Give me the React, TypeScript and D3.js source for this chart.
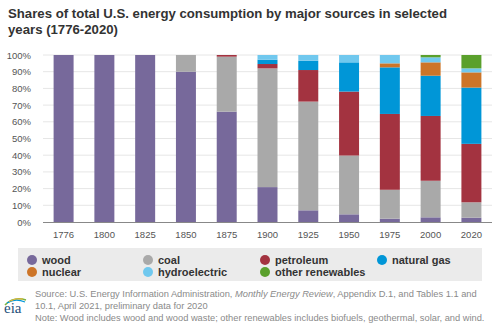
import React from "react";
import * as d3 from "d3";

const years = ["1776", "1800", "1825", "1850", "1875", "1900", "1925", "1950", "1975", "2000", "2020"];
const seriesNames = ["wood", "coal", "petroleum", "natural gas", "nuclear", "hydroelectric", "other renewables"];
const seriesColors = ["#77699b", "#a9a9a9", "#a33340", "#0096d7", "#cd7528", "#70c8ee", "#5aa02c"];

const wood = [100, 100, 100, 90.0, 66.1, 20.9, 7.0, 4.6, 2.0, 2.8, 2.6];
const coal = [0, 0, 0, 10.0, 32.9, 71.1, 65.1, 35.2, 17.3, 21.9, 9.2];
const petroleum = [0, 0, 0, 0, 1.0, 2.6, 18.9, 38.3, 45.4, 38.8, 35.0];
const naturalGas = [0, 0, 0, 0, 0, 2.6, 5.6, 17.5, 27.9, 24.1, 33.7];
const nuclear = [0, 0, 0, 0, 0, 0, 0, 0, 2.4, 8.0, 9.1];
const hydroelectric = [0, 0, 0, 0, 0, 2.8, 3.4, 4.4, 5.0, 3.0, 2.4];
const otherRenewables = [0, 0, 0, 0, 0, 0, 0, 0, 0, 1.4, 8.0];

const yTicks = [0, 10, 20, 30, 40, 50, 60, 70, 80, 90, 100];

const FONT = "Liberation Sans, Arial, sans-serif";

export default function App() {
  const W = 500, H = 325;
  const m = { left: 43, right: 8, top: 55, bottom: 103 };
  const x = d3.scaleBand<string>().domain(years).range([m.left, W - m.right]).paddingInner(0.51).paddingOuter(0.26);
  const y = d3.scaleLinear().domain([0, 100]).range([222, 55]);

  const rows = years.map((yr, i) => {
    const r: any = { year: yr };
    r["wood"] = wood[i];
    r["coal"] = coal[i];
    r["petroleum"] = petroleum[i];
    r["natural gas"] = naturalGas[i];
    r["nuclear"] = nuclear[i];
    r["hydroelectric"] = hydroelectric[i];
    r["other renewables"] = otherRenewables[i];
    return r;
  });
  const stack = d3.stack<any>().keys(seriesNames);
  const layers = stack(rows);

  const legendPos = [
    [32, 260], [148, 260], [265, 260], [382, 260],
    [32, 272], [148, 272], [265, 272],
  ];
  const legendOrder = ["wood", "coal", "petroleum", "natural gas", "nuclear", "hydroelectric", "other renewables"];

  return (
    <svg width={W} height={H} style={{ position: "absolute", left: 0, top: 0, background: "#fff" }}>
      <text x={8} y={18} fontFamily={FONT} fontWeight="bold" fontSize={13.2} fill="#333">
        Shares of total U.S. energy consumption by major sources in selected
      </text>
      <text x={8} y={34} fontFamily={FONT} fontWeight="bold" fontSize={13.2} fill="#333">
        years (1776-2020)
      </text>

      {yTicks.map((t) => (
        <g key={t}>
          {t > 0 && <line x1={m.left} x2={W - m.right} y1={y(t)} y2={y(t)} stroke="#e6e6e6" strokeWidth={1} />}
          <text x={31} y={y(t) + 3.5} textAnchor="end" fontFamily={FONT} fontSize={9.5} fill="#555">
            {t}%
          </text>
        </g>
      ))}

      {layers.map((layer, li) => (
        <g key={layer.key} fill={seriesColors[li]}>
          {layer.map((d, i) =>
            d[1] - d[0] > 0 ? (
              <rect key={i} x={x(years[i])} width={x.bandwidth()} y={y(d[1])} height={y(d[0]) - y(d[1])} />
            ) : null
          )}
        </g>
      ))}

      <line x1={m.left} x2={W - m.right} y1={y(0) + 0.5} y2={y(0) + 0.5} stroke="#888" strokeWidth={1} />

      {years.map((yr) => (
        <text key={yr} x={(x(yr) as number) + x.bandwidth() / 2} y={238} textAnchor="middle" fontFamily={FONT} fontSize={9.5} fill="#555">
          {yr}
        </text>
      ))}

      <rect x={18} y={248} width={464} height={33} fill="#ebebeb" />
      {legendOrder.map((name, i) => {
        const ci = seriesNames.indexOf(name);
        const [lx, ly] = legendPos[i];
        return (
          <g key={name}>
            <circle cx={lx} cy={ly} r={5} fill={seriesColors[ci]} />
            <text x={lx + 10} y={ly + 4} fontFamily={FONT} fontWeight="bold" fontSize={11} fill="#333">
              {name}
            </text>
          </g>
        );
      })}

      <g fontFamily={FONT} fontSize={9.3} fill="#8a8a8a">
        <text x={35} y={297}>
          Source: U.S. Energy Information Administration, <tspan fontStyle="italic">Monthly Energy Review</tspan>, Appendix D.1, and Tables 1.1 and
        </text>
        <text x={35} y={309}>10.1, April 2021, preliminary data for 2020</text>
        <text x={35} y={321}>Note: Wood includes wood and wood waste; other renewables includes biofuels, geothermal, solar, and wind.</text>
      </g>

      <g>
        <path d="M5,305 Q14,296 26,300" fill="none" stroke="#7cb342" strokeWidth={1.6} />
        <path d="M7,303 Q15,298 25,302" fill="none" stroke="#0096d7" strokeWidth={1.2} />
        <path d="M9,301.5 Q16,297.5 23,299" fill="none" stroke="#f2b632" strokeWidth={1} />
        <text x={4} y={313} fontFamily="Liberation Serif, Times New Roman, serif" fontSize={15} fill="#1f4e79">
          eia
        </text>
      </g>
    </svg>
  );
}
